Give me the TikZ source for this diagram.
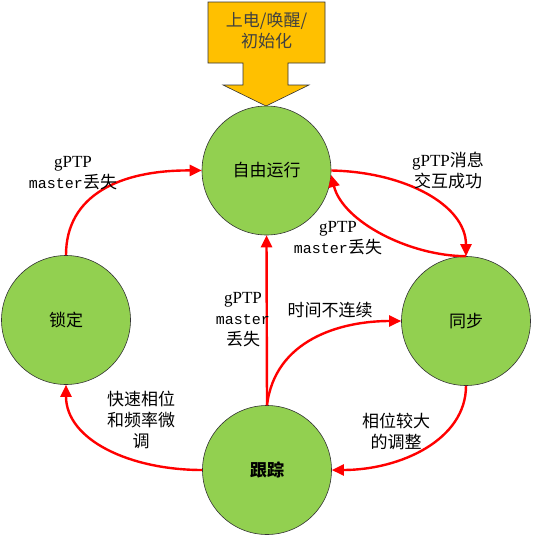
\documentclass[tikz,border=0pt]{standalone}
\usepackage{fontspec}
\setmainfont{Noto Sans CJK SC}
\newfontfamily\lserif{Liberation Serif}
\newfontfamily\lmono{Liberation Mono}
\usetikzlibrary{arrows.meta}
\definecolor{stategreen}{HTML}{92D050}
\definecolor{bigarrow}{HTML}{FFC000}
\newcommand{\gp}{{\lserif gPTP}}
\newcommand{\ms}{{\lmono\fontsize{15}{21}\selectfont master}}
\begin{document}
\begin{tikzpicture}[x=1pt,y=-1pt,
  state/.style={circle,draw=black!80,line width=0.6pt,fill=stategreen,minimum size=129pt,inner sep=0pt,font=\fontsize{17}{21}\selectfont},
  trans/.style={draw=red,line width=2.4pt,-{Triangle[length=12pt,width=11pt]}},
  lbl/.style={align=center,font=\fontsize{17}{21}\selectfont,inner sep=0pt}]
\useasboundingbox (0,0) rectangle (533,536);
% big yellow arrow
\draw[fill=bigarrow,draw=black!80,line width=0.6pt]
  (208,2) -- (325,2) -- (325,63) -- (288,63) -- (288,85) -- (309,85) -- (266,106)
  -- (223,85) -- (243,85) -- (243,63) -- (208,63) -- cycle;
\node[lbl,text=black!75] (init) at (266.5,31) {上电/唤醒/\\初始化};
% states
\node[state] (A) at (266.5,170.5) {自由运行};
\node[state] (L) at (66,320) {锁定};
\node[state] (S) at (466,321) {同步};
\node[state] (T) at (267,470) {\bfseries 跟踪};
% transitions
\draw[trans] (L.90) .. controls (66,195) and (120,170) .. (A.180);
\draw[trans] (A.0) .. controls (405,172) and (466,205) .. (S.90);
\draw[trans] (S.90) .. controls (410,256) and (343,222) .. (A.-4);
\draw[trans] (T.90) -- (A.270);
\draw[trans] (T.90) .. controls (275,340) and (340,321) .. (S.180);
\draw[trans] (S.270) .. controls (466,440) and (400,470) .. (T.0);
\draw[trans] (T.180) .. controls (130,470) and (66,440) .. (L.270);
% labels
\node[lbl] (l1) at (73,173) {\gp\\\ms 丢失};
\node[lbl] (l2) at (448,171) {\gp 消息\\交互成功};
\node[lbl] (l3) at (338,238) {\gp\\\ms 丢失};
\node[lbl] (l4) at (243,320) {\gp\\\ms\\丢失};
\node[lbl] (l5) at (330,310) {时间不连续};
\node[lbl] (l6) at (141,420) {快速相位\\和频率微\\调};
\node[lbl] (l7) at (396,431) {相位较大\\的调整};
\end{tikzpicture}
\end{document}
